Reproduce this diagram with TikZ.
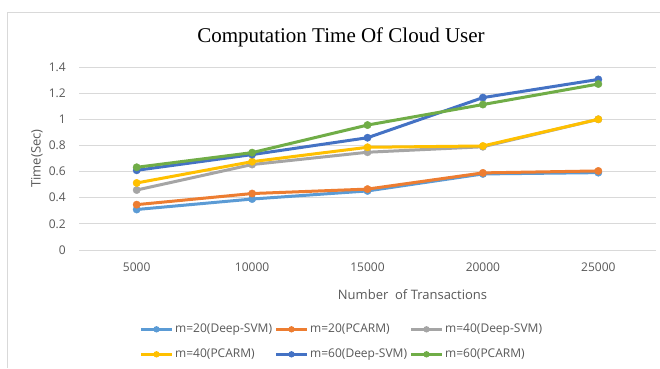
\documentclass[tikz,border=0pt]{standalone}
\usepackage{fontspec}
\setmainfont{Liberation Serif}
\newfontfamily\chartsans{Open Sans}
\definecolor{serA}{HTML}{5B9BD5}
\definecolor{serB}{HTML}{ED7D31}
\definecolor{serC}{HTML}{A5A5A5}
\definecolor{serD}{HTML}{FFC000}
\definecolor{serE}{HTML}{4472C4}
\definecolor{serF}{HTML}{70AD47}
\definecolor{gridgray}{HTML}{D9D9D9}
\definecolor{labelgray}{HTML}{595959}
\begin{document}
\begin{tikzpicture}[x=1pt,y=-1pt,
  ticklabel/.style={font=\chartsans\fontsize{12}{14}\selectfont, text=labelgray, inner sep=0pt},
  axistitle/.style={font=\chartsans\fontsize{13}{15}\selectfont, text=labelgray, inner sep=0pt},
  legendtext/.style={font=\chartsans\fontsize{12}{14}\selectfont, text=labelgray, inner sep=0pt, anchor=west},
  series/.style={draw=#1, line width=3pt, line join=round, line cap=round,
    mark=*, mark size=3.7pt, mark options={fill=#1, draw=#1, line width=0.4pt}},
  legendline/.style={draw=#1, line width=3pt}]
\useasboundingbox (0,0) rectangle (660,368);
\fill[white] (0,0) rectangle (660,368);
% chart area border (left and top edges visible)
\draw[gridgray, line width=1pt] (7.5,368) -- (7.5,12.5) -- (660,12.5);
% title
\node[font=\fontsize{21}{24}\selectfont, anchor=base, inner sep=0pt] (title) at (341,42) {Computation Time Of Cloud User};
% horizontal gridlines and value labels
\foreach \k/\lab in {0/0,1/0.2,2/0.4,3/0.6,4/0.8,5/1,6/1.2,7/1.4}{
  \pgfmathsetmacro{\gy}{250-\k*26.143}
  \draw[gridgray, line width=1pt] (79,\gy) -- (656,\gy);
  \node[ticklabel, anchor=east] (ylab\k) at (66,\gy) {\lab};
}
% category labels
\foreach \i/\lab in {0/5000,1/10000,2/15000,3/20000,4/25000}{
  \pgfmathsetmacro{\gx}{136.7+\i*115.4}
  \node[ticklabel] (xlab\i) at (\gx,266.7) {\lab};
}
% axis titles
\node[axistitle, rotate=90] (ytitle) at (37,158.5) {Time(Sec)};
\node[axistitle] (xtitle) at (412.5,295) {Number\ \ of Transactions};
% data series
\begin{scope}[shift={(136.7,250)}, x=115.4pt, y=130.7pt]
  \draw[series=serA] plot coordinates {(0,0.31) (1,0.39) (2,0.452) (3,0.582) (4,0.592)};
  \draw[series=serB] plot coordinates {(0,0.347) (1,0.432) (2,0.466) (3,0.59) (4,0.605)};
  \draw[series=serC] plot coordinates {(0,0.459) (1,0.654) (2,0.748) (3,0.79) (4,1.0)};
  \draw[series=serD] plot coordinates {(0,0.513) (1,0.676) (2,0.786) (3,0.796) (4,1.0)};
  \draw[series=serE] plot coordinates {(0,0.61) (1,0.73) (2,0.859) (3,1.166) (4,1.305)};
  \draw[series=serF] plot coordinates {(0,0.633) (1,0.745) (2,0.956) (3,1.113) (4,1.27)};
\end{scope}
% legend
\foreach \c/\lx/\ly/\txt/\nm in {
  serA/141/329.3/{m=20(Deep-SVM)}/legA,
  serB/276/329.3/{m=20(PCARM)}/legB,
  serC/411/329.3/{m=40(Deep-SVM)}/legC,
  serD/141/354.3/{m=40(PCARM)}/legD,
  serE/276/354.3/{m=60(Deep-SVM)}/legE,
  serF/411/354.3/{m=60(PCARM)}/legF}{
  \draw[legendline=\c] (\lx,\ly) -- ++(31,0);
  \fill[\c] (\lx+15.5,\ly) circle (3.2);
  \node[legendtext] (\nm) at (\lx+34,\ly) {\txt};
}
\end{tikzpicture}
\end{document}
